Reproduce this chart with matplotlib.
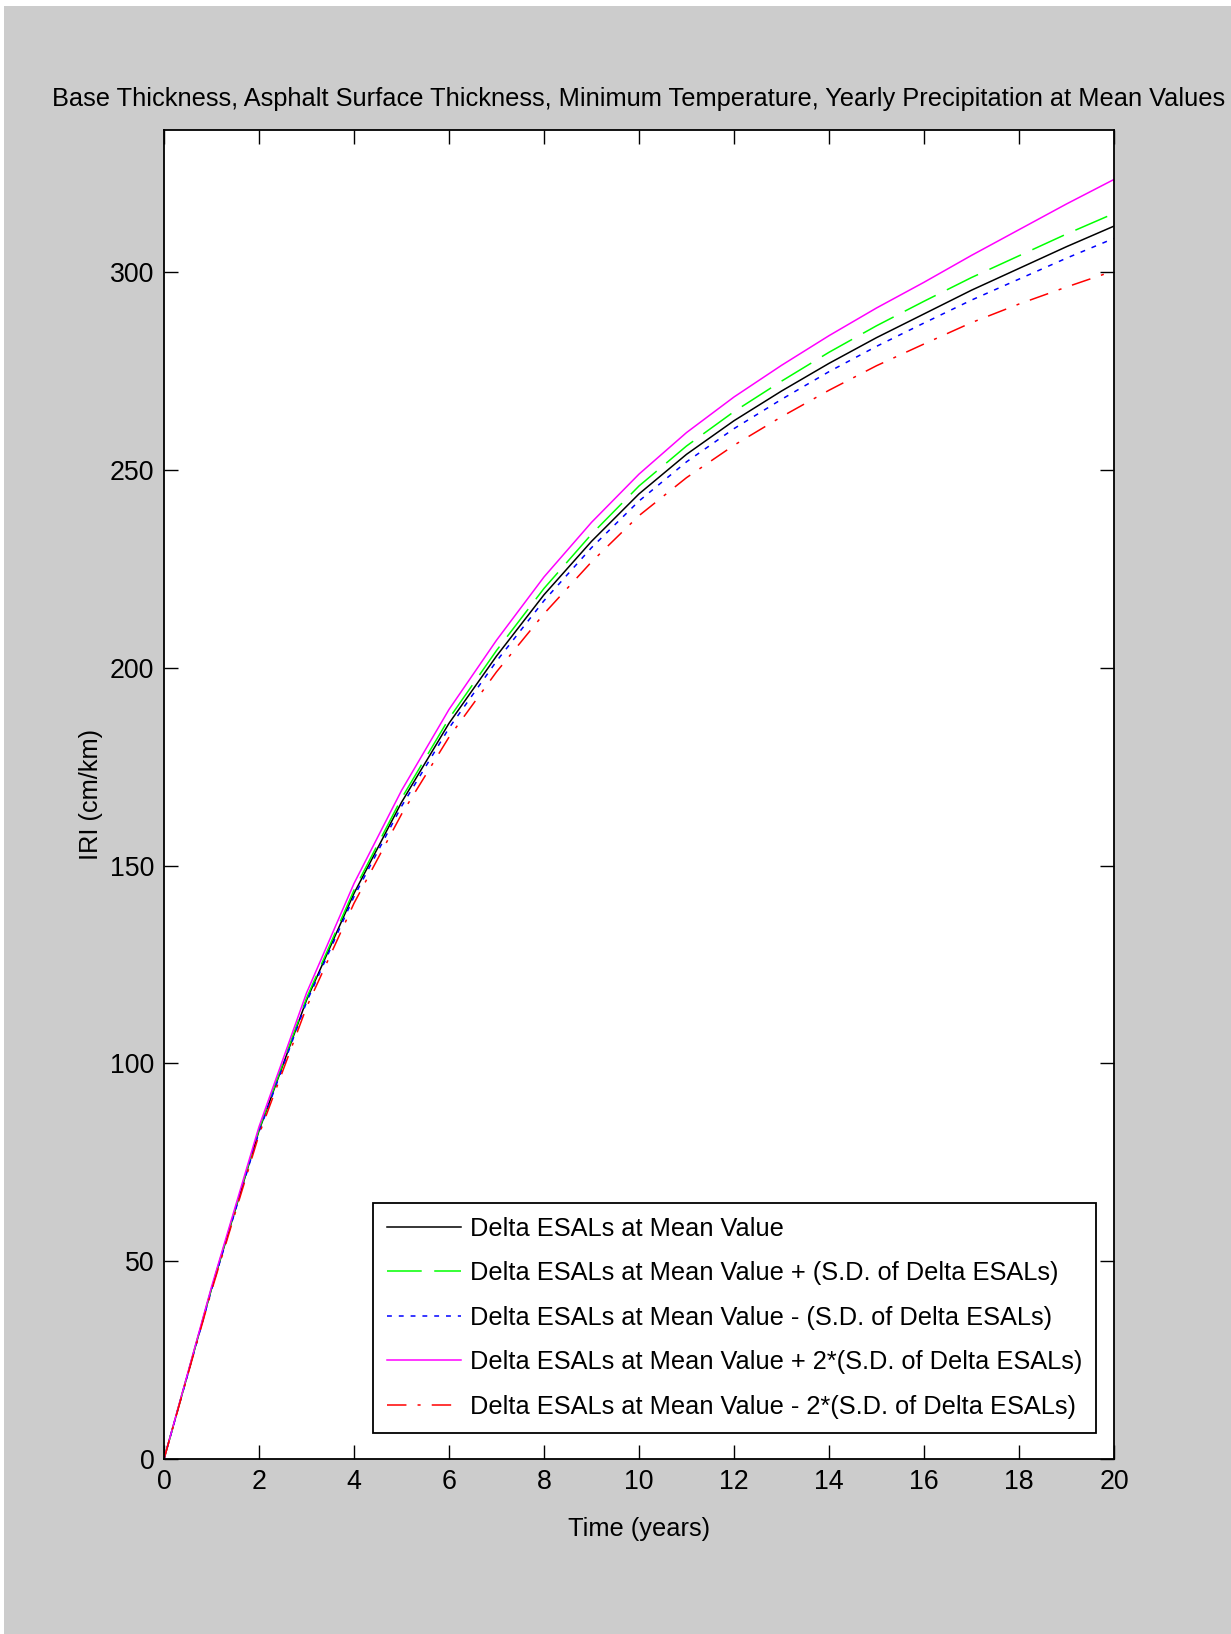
import matplotlib
matplotlib.use("Agg")
import matplotlib.pyplot as plt
from matplotlib.patches import Rectangle

# Donnees (IRI en cm/km, par annee)
years = list(range(0, 21))
iri_mean = [0, 43, 83, 116, 143, 166, 186, 203, 218.5, 232, 244, 254, 262.5,
            270, 277, 283.5, 289.5, 295.5, 301, 306.5, 311.7]
iri_plus_sd = [0, 43.2, 83.3, 116.5, 143.8, 167, 187.2, 204.4, 220.1, 233.8, 246,
               256.1, 264.8, 272.5, 279.8, 286.5, 292.7, 298.7, 304.2, 309.7, 314.9]
iri_minus_sd = [0, 42.8, 82.7, 115.5, 142.2, 165, 184.8, 201.7, 217, 230.4, 242.2,
                252.1, 260.5, 267.9, 274.9, 281.3, 287.2, 293, 298.3, 303.6, 308.6]
iri_plus_2sd = [0, 43.5, 84, 117.8, 145.5, 169, 189.5, 207, 223, 236.8, 249, 259.5,
                268.5, 276.5, 284, 291, 297.5, 304.3, 310.8, 317.3, 323.5]
iri_minus_2sd = [0, 42.5, 82, 114.2, 140.5, 163, 182.5, 199, 213.7, 226.8, 238.5,
                 248.1, 256.3, 263.5, 270.2, 276.4, 281.9, 287.3, 292, 296.3, 300.4]

labels = [
    "Delta ESALs at Mean Value",
    "Delta ESALs at Mean Value + (S.D. of Delta ESALs)",
    "Delta ESALs at Mean Value - (S.D. of Delta ESALs)",
    "Delta ESALs at Mean Value + 2*(S.D. of Delta ESALs)",
    "Delta ESALs at Mean Value - 2*(S.D. of Delta ESALs)",
]
title = ("Base Thickness, Asphalt Surface Thickness, Minimum Temperature, "
         "Yearly Precipitation at Mean Values")

plt.rcParams["font.family"] = ["Liberation Sans", "DejaVu Sans"]
plt.rcParams["lines.scale_dashes"] = False

GRAY = "#cccccc"
FS = 18.3

fig = plt.figure(figsize=(12.31, 16.34), dpi=100, facecolor="white")
# fond gris avec une fine bande blanche en haut et a gauche
fig.patches.append(Rectangle((4 / 1231, 0), 1, 1 - 6 / 1634, transform=fig.transFigure,
                             facecolor=GRAY, edgecolor="none", zorder=-10))

ax = fig.add_axes([164 / 1231, 175 / 1634, 950 / 1231, 1329 / 1634])
ax.set_facecolor("white")

lw = 1.1
ax.plot(years, iri_mean, color="#000000", lw=lw, ls="-", label=labels[0])
ax.plot(years, iri_plus_sd, color="#00ff00", lw=lw, dashes=(25, 9), label=labels[1])
ax.plot(years, iri_minus_sd, color="#0000ff", lw=lw, dashes=(3.5, 5), label=labels[2])
ax.plot(years, iri_plus_2sd, color="#ff00ff", lw=lw, ls="-", label=labels[3])
ax.plot(years, iri_minus_2sd, color="#ff0000", lw=lw, dashes=(14, 8, 2.2, 8), label=labels[4])

ax.set_xlim(0, 20)
ax.set_ylim(0, 336)
ax.set_xticks(range(0, 21, 2))
ax.set_yticks(range(0, 301, 50))
ax.tick_params(direction="in", length=10, width=1, top=True, right=True,
               labelsize=FS + 1, pad=7, colors="black")
for s in ax.spines.values():
    s.set_linewidth(1.3)
    s.set_color("black")

ax.set_xlabel("Time (years)", fontsize=FS, labelpad=16)
ax.set_ylabel("IRI (cm/km)", fontsize=FS, labelpad=5)
ax.set_title(title, fontsize=FS, pad=17)

leg = ax.legend(loc="lower right", bbox_to_anchor=(0.981, 0.0196), borderaxespad=0,
                fontsize=FS, frameon=True, fancybox=False, edgecolor="black",
                handlelength=2.9, handletextpad=0.35, labelspacing=0.81, borderpad=0.55)
leg.get_frame().set_linewidth(1.3)
leg.get_frame().set_facecolor("white")
leg.get_frame().set_alpha(1)

fig.savefig("out.png", dpi=100, facecolor=fig.get_facecolor())
